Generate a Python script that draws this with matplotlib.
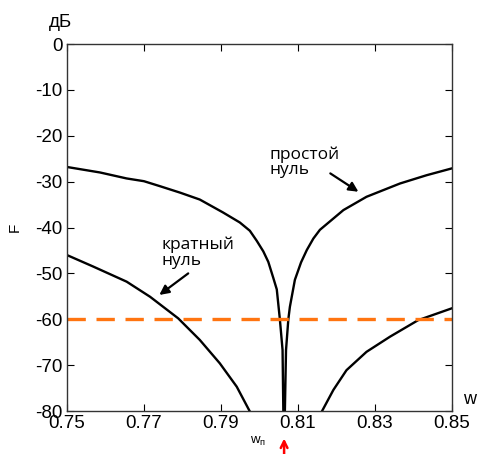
import matplotlib.pyplot as plt
import numpy as np

plt.rcParams['font.family'] = ['Liberation Sans', 'DejaVu Sans']

# simple zero: |F| in dB vs normalised frequency
w_simple = [0.7500, 0.7586, 0.7655, 0.7700, 0.7742, 0.7794, 0.7845, 0.7905,
            0.7949, 0.7975, 0.7993, 0.8010, 0.8023, 0.8036, 0.8045, 0.8053,
            0.8060, 0.8062, 0.8064, 0.8066, 0.8069, 0.8075, 0.8079, 0.8092,
            0.8108, 0.8123, 0.8140, 0.8157, 0.8218, 0.8278, 0.8365, 0.8434,
            0.8500]
f_simple = [-26.8, -28.0, -29.3, -29.9, -31.0, -32.4, -33.9, -36.7,
            -38.9, -40.7, -42.9, -45.2, -47.5, -51.0, -53.5, -60.0,
            -66.7, -80.0, -95.0, -80.0, -66.7, -60.0, -57.3, -51.4,
            -47.6, -44.9, -42.4, -40.5, -36.2, -33.3, -30.4, -28.6,
            -27.1]

# multiple (double) zero, left and right branches
w_double_l = [0.7500, 0.7568, 0.7655, 0.7716, 0.7789, 0.7845, 0.7897, 0.7941, 0.7975]
f_double_l = [-46.0, -48.5, -51.8, -55.1, -59.8, -64.5, -69.6, -74.7, -80.1]
w_double_r = [0.8162, 0.8192, 0.8226, 0.8278, 0.8339, 0.8412, 0.8500]
f_double_r = [-80.1, -75.4, -71.1, -67.1, -63.8, -60.2, -57.6]

level = -60
w_null = 0.8064

xticks = [0.75, 0.77, 0.79, 0.81, 0.83, 0.85]
yticks = [0, -10, -20, -30, -40, -50, -60, -70, -80]

fig = plt.figure(figsize=(4.78, 4.54), dpi=100)
ax = fig.add_axes([0.140, 0.0947, 0.8056, 0.8083])

ax.plot(w_simple, f_simple, color='black', lw=1.7)
ax.plot(w_double_l, f_double_l, color='black', lw=1.7)
ax.plot(w_double_r, f_double_r, color='black', lw=1.7)
ax.axhline(level, color='#ff7410', lw=2.4, dashes=(5.5, 3.2))

ax.set_xlim(0.75, 0.85)
ax.set_ylim(-80, 0)
ax.set_xticks(xticks)
ax.set_xticklabels(['%.2f' % t for t in xticks])
ax.set_yticks(yticks)
ax.set_yticklabels(['%d' % t for t in yticks])
ax.tick_params(direction='in', length=5, labelsize=13.5, top=True, right=True,
               labeltop=False, labelright=False, width=0.8, pad=3)
for s in ax.spines.values():
    s.set_linewidth(1.0)
    s.set_color('#333333')

ax.text(-0.016, 1.035, 'дБ', transform=ax.transAxes, fontsize=13.5, ha='center', va='bottom')
ax.text(-0.135, 0.5, 'F', transform=ax.transAxes, fontsize=11, rotation=90,
        ha='center', va='center')
ax.text(1.045, 0.03, 'w', transform=ax.transAxes, fontsize=13, ha='center', va='center')

ann = dict(fontsize=12.5, family=['Open Sans', 'DejaVu Sans'], linespacing=0.95,
           ha='left', va='center')
arrow = dict(arrowstyle='-|>', color='black', lw=1.6, mutation_scale=14,
             shrinkA=0, shrinkB=0)

ax.text(0.8027, -25.8, 'простой\nнуль', **ann)
ax.annotate('', xy=(0.8257, -32.2), xytext=(0.8184, -28.2), arrowprops=arrow)

ax.text(0.7745, -45.5, 'кратный\nнуль', **ann)
ax.annotate('', xy=(0.7740, -54.7), xytext=(0.7815, -50.0), arrowprops=arrow)

# marker for the null frequency below the axis
ax.annotate('', xy=(w_null, -86.0), xytext=(w_null, -89.8),
            annotation_clip=False,
            arrowprops=dict(arrowstyle='->', color='red', lw=1.8, mutation_scale=12,
                            shrinkA=0, shrinkB=0))
ax.text(w_null - 0.0046, -86.6, r'w$_\mathregular{п}$', fontsize=9.5,
        ha='right', va='center', clip_on=False)

fig.savefig('out.png', dpi=100)
